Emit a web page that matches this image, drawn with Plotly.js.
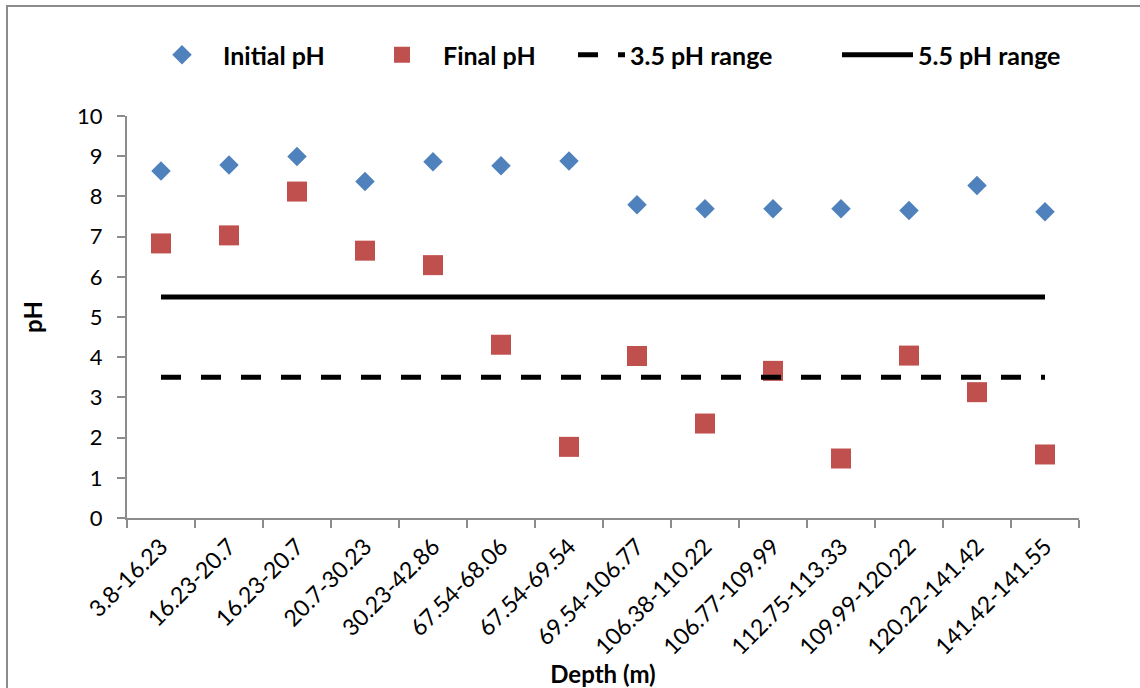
<!DOCTYPE html>
<html>
<head>
<meta charset="utf-8">
<script src="https://cdn.plot.ly/plotly-3.0.1.min.js"></script>
<style>
html,body{margin:0;padding:0;background:#fff;}
#chart{width:1140px;height:688px;}
</style>
</head>
<body>
<div id="chart"></div>
<script>
const depthLabels = ["3.8-16.23","16.23-20.7","16.23-20.7","20.7-30.23","30.23-42.86","67.54-68.06","67.54-69.54","69.54-106.77","106.38-110.22","106.77-109.99","112.75-113.33","109.99-120.22","120.22-141.42","141.42-141.55"];
const initialPH = [8.63,8.78,8.99,8.37,8.86,8.76,8.88,7.79,7.69,7.69,7.69,7.65,8.27,7.62];
const finalPH   = [6.83,7.03,8.12,6.65,6.29,4.31,1.77,4.03,2.35,3.66,1.48,4.04,3.13,1.58];
const range35 = [3.5,3.5];
const range55 = [5.5,5.5];

const idx = depthLabels.map((_, i) => i + 1);
const lineX = [idx[0], idx[idx.length - 1]];

const L = 127, R = 1079, T = 116, B = 518;
const pw = R - L, ph = B - T;
const px = x => (x - L) / pw;
const py = y => (B - y) / ph;

const font = "Lato, 'Open Sans', sans-serif";

const traces = [
  {x: idx, y: initialPH, name: "Initial pH", type: "scatter", mode: "markers",
   marker: {symbol: "diamond", size: 15, color: "#4F81BD"}, legend: "legend"},
  {x: idx, y: finalPH, name: "Final pH", type: "scatter", mode: "markers",
   marker: {symbol: "square", size: 20, color: "#C0504D"}, legend: "legend2"},
  {x: lineX, y: range35, name: "3.5 pH range", type: "scatter", mode: "lines",
   line: {color: "#000", width: 5, dash: "20px,20px"}, legend: "legend3"},
  {x: lineX, y: range55, name: "5.5 pH range", type: "scatter", mode: "lines",
   line: {color: "#000", width: 5}, legend: "legend4"}
];

const legFont = {family: font, size: 25, color: "#000", weight: "bold"};
function leg(xpx, iw) {
  return {x: px(xpx), y: py(55), xanchor: "left", yanchor: "middle",
          orientation: "h", font: legFont, itemwidth: iw, bgcolor: "rgba(0,0,0,0)",
          borderwidth: 0};
}

const layout = {
  width: 1140, height: 688,
  margin: {l: L, r: 1140 - R, t: T, b: 688 - B},
  paper_bgcolor: "#fff", plot_bgcolor: "#fff",
  font: {family: font, color: "#000"},
  showlegend: true,
  legend: leg(141, 72),
  legend2: leg(361, 72),
  legend3: leg(573, 47),
  legend4: leg(837, 71),
  xaxis: {
    range: [0.5, 14.5], tickmode: "array", tickvals: idx, ticktext: depthLabels,
    tickangle: -45, ticks: "", showgrid: false, zeroline: false,
    ticklabelstandoff: 4,
    showline: true, linecolor: "#8c8c8c", linewidth: 2,
    tickfont: {family: font, size: 23, color: "#000"},
    minor: {tickmode: "linear", tick0: 0.5, dtick: 1, ticks: "outside", ticklen: 8, tickcolor: "#8c8c8c", tickwidth: 2, showgrid: false},
    title: {text: "Depth (m)", font: {family: font, size: 24, weight: "bold", color: "#000"}, standoff: 4},
    fixedrange: true
  },
  yaxis: {
    range: [0, 10], dtick: 1, tick0: 0, ticks: "outside", ticklen: 8, tickcolor: "#8c8c8c", tickwidth: 2,
    ticklabelstandoff: 10,
    showgrid: false, zeroline: false, showline: true, linecolor: "#8c8c8c", linewidth: 2,
    tickfont: {family: font, size: 22, color: "#000"},
    title: {text: "pH", font: {family: font, size: 24, weight: "bold", color: "#000"}, standoff: 28},
    fixedrange: true
  },
  shapes: [
    {type: "rect", xref: "paper", yref: "paper", x0: px(7), x1: px(1160), y0: py(6), y1: py(720),
     line: {color: "#8c8c8c", width: 2}, fillcolor: "rgba(0,0,0,0)", layer: "below"}
  ]
};

Plotly.newPlot("chart", traces, layout, {staticPlot: true, displayModeBar: false});
</script>
</body>
</html>
